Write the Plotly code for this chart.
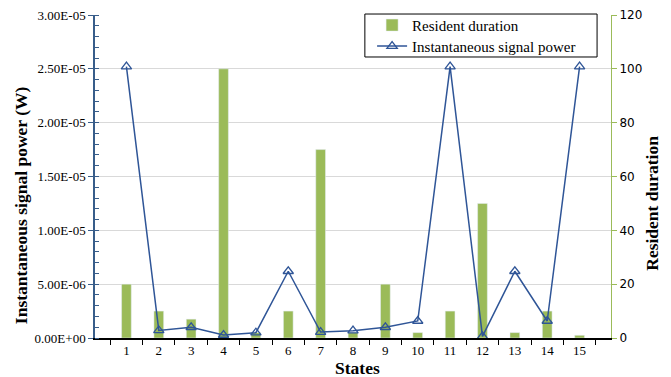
import plotly.graph_objects as go

states = [str(i) for i in range(1, 16)]
resident_duration = [20, 10, 7, 100, 2, 10, 70, 2, 20, 2, 10, 50, 2, 10, 1]
signal_power = [2.52e-5, 7.0e-7, 1.0e-6, 2.8e-7, 4.9e-7, 6.2e-6, 5.5e-7, 6.8e-7,
                1.0e-6, 1.58e-6, 2.52e-5, 1.5e-7, 6.2e-6, 1.58e-6, 2.52e-5]
power_ticks = [0, 5e-6, 1e-5, 1.5e-5, 2e-5, 2.5e-5, 3e-5]
power_ticktext = [f"{v:.2E}" for v in power_ticks]
duration_ticks = [0, 20, 40, 60, 80, 100, 120]

serif = "Liberation Serif"
green = "#9BBB59"
blue = "#2F5597"
title_font = dict(family=serif, size=17.5, color="black")
legend_font = dict(family=serif, size=15, color="black")

fig = go.Figure()
fig.add_trace(go.Bar(x=states, y=resident_duration, name="Resident duration",
                     marker_color=green, yaxis="y", legend="legend"))
fig.add_trace(go.Scatter(x=states, y=signal_power, name="Instantaneous signal power",
                         mode="lines+markers", yaxis="y2", legend="legend2",
                         line=dict(color=blue, width=1.5),
                         marker=dict(symbol="triangle-up-open", size=9, color=blue,
                                     line=dict(width=1.3))))

fig.update_layout(
    width=671, height=377,
    margin=dict(l=95, r=60, t=15, b=39, autoexpand=False),
    plot_bgcolor="white", paper_bgcolor="white",
    bargap=0.7,
    showlegend=True,
    legend=dict(x=0.537, xanchor="left", y=0.968, yanchor="middle",
                bgcolor="rgba(255,255,255,0)", borderwidth=0,
                font=legend_font, itemwidth=30),
    legend2=dict(x=0.537, xanchor="left", y=0.903, yanchor="middle",
                 bgcolor="rgba(255,255,255,0)", borderwidth=0,
                 font=legend_font, itemwidth=30),
    shapes=[dict(type="rect", xref="paper", yref="paper", x0=0.523, x1=0.973,
                 y0=0.870, y1=1.003, line=dict(color="black", width=1),
                 fillcolor="white", layer="above")],
    xaxis=dict(type="category", tickson="boundaries", ticks="outside", ticklen=5,
               tickcolor="black", showline=True, linecolor="black", linewidth=1.5,
               showgrid=False, automargin=False,
               tickfont=dict(family=serif, size=13, color="black")),
    yaxis=dict(side="right", range=[0, 120], tickvals=duration_ticks,
               ticks="outside", ticklen=5, tickcolor=green,
               showline=True, linecolor=green, linewidth=1,
               showgrid=True, gridcolor="#D9D9D9", gridwidth=1, zeroline=False,
               automargin=False,
               tickfont=dict(family="DejaVu Sans", size=12, color="black")),
    yaxis2=dict(side="left", overlaying="y", range=[0, 3e-5], tickvals=power_ticks,
                ticktext=power_ticktext, ticks="outside", ticklen=5, tickcolor="#385D8A",
                minor=dict(ticks="inside", dtick=1e-6, ticklen=4, tickcolor="#385D8A"),
                showline=True, linecolor="#385D8A", linewidth=1.5,
                showgrid=False, zeroline=False, automargin=False,
                tickfont=dict(family=serif, size=13, color="black")),
    annotations=[
        dict(text="<b>States</b>", xref="paper", yref="paper", x=0.508, y=-0.092,
             xanchor="center", yanchor="middle", showarrow=False, font=title_font),
        dict(text="<b>Instantaneous signal power (W)</b>", xref="paper", yref="paper",
             x=-0.143, y=0.412, xanchor="center", yanchor="middle", textangle=-90,
             showarrow=False, font=title_font),
        dict(text="<b>Resident duration</b>", xref="paper", yref="paper",
             x=1.079, y=0.418, xanchor="center", yanchor="middle", textangle=-90,
             showarrow=False, font=title_font),
    ],
)

fig.write_html("out.html")
